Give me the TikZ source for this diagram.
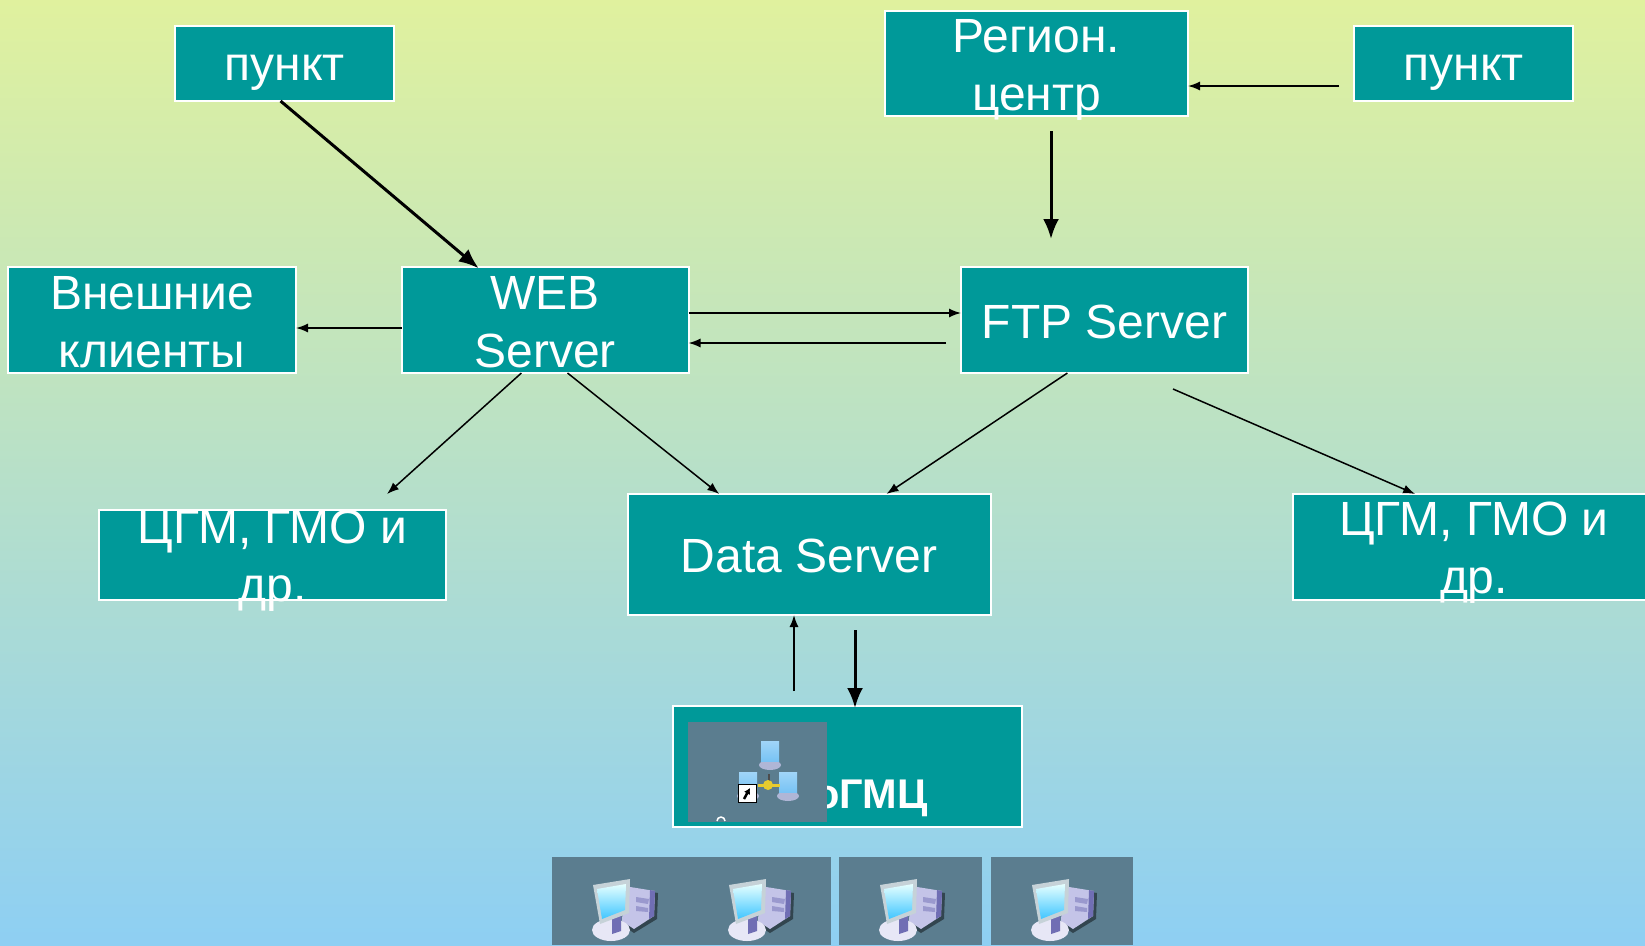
\documentclass[tikz,border=0pt]{standalone}
\usepackage{fontspec}
\setmainfont{Liberation Sans}
\usetikzlibrary{arrows.meta}

\definecolor{tealbox}{RGB}{0,153,153}
\definecolor{tilegray}{RGB}{91,125,143}
\definecolor{bgtop}{RGB}{224,241,158}
\definecolor{bgbottom}{RGB}{142,207,243}
\definecolor{towerlav}{RGB}{196,196,232}
\definecolor{towerdark}{RGB}{112,110,180}
\definecolor{skyscreen}{RGB}{120,195,245}

\tikzset{
  tealnode/.style={draw=white, line width=2pt, fill=tealbox, outer sep=0pt, inner sep=0pt},
  boxtext/.style={text=white, align=center, inner sep=0pt, font=\fontsize{48pt}{58pt}\selectfont},
  thinarrow/.style={line width=1.5pt, -{Latex[length=12pt,width=9pt]}},
  thickarrow/.style={line width=3pt, shorten >=-2pt, -{Latex[length=20pt,width=16pt]}},
  tile/.style={fill=tilegray, inner sep=0pt, outer sep=0pt}
}

\begin{document}
\begin{tikzpicture}[x=1pt,y=-1pt]

\newcommand\PC[2]{%
\begin{scope}[shift={(#1,#2)}]
  \fill[black!45!tilegray] (34,9) -- (66,14) -- (65,40) -- (42,54) -- (30,46) -- cycle;
  \fill[towerlav] (32,7) -- (63,12) -- (62,37) -- (42,50) -- (30,42) -- cycle;
  \fill[towerdark] (58,11) -- (63,12) -- (62,37) -- (57,40) -- cycle;
  \fill[towerdark!50!towerlav] (44,18) -- (57,20) -- (56,25) -- (44,23) -- cycle;
  \fill[towerdark!50!towerlav] (44,27) -- (56,29) -- (56,33) -- (44,32) -- cycle;
  \fill[towerlav!40!white] (19,51) ellipse (19 and 11);
  \fill[towerdark] (20,36) -- (29,34) -- (29,52) -- (20,55) -- cycle;
  \fill[white!65!tilegray] (1,6) -- (38,0) -- (37,34) -- (8,45) -- cycle;
  \shade[top color=cyan!10!white, bottom color=cyan!70!blue!75!white] (5,10) -- (34,5) -- (33,31) -- (10,40) -- cycle;
\end{scope}}

\newcommand\SMALLPC[2]{%
\begin{scope}[shift={(#1,#2)}]
  \fill[towerlav!80!tilegray] (10,24) ellipse (11 and 5);
  \shade[top color=skyscreen!70!white, bottom color=skyscreen] (1,0) -- (19,0) -- (19,20) -- (1,20) -- cycle;
\end{scope}}

%% background
\path[use as bounding box, clip] (0,0) rectangle (1645,945);
\shade[top color=bgtop, bottom color=bgbottom] (0,0) rectangle (1645,945);

%% boxes
\node[tealnode, minimum width=219pt, minimum height=75pt] (punktA) at (284.5,63.5) {};
\node[tealnode, minimum width=303pt, minimum height=105pt] (region) at (1036.5,63.5) {};
\node[tealnode, minimum width=219pt, minimum height=75pt] (punktB) at (1463.5,63.5) {};
\node[tealnode, minimum width=288pt, minimum height=106pt] (clients) at (152,320) {};
\node[tealnode, minimum width=287pt, minimum height=106pt] (web) at (545,320) {};
\node[tealnode, minimum width=287pt, minimum height=106pt] (ftp) at (1104.5,320) {};
\node[tealnode, minimum width=347pt, minimum height=90pt] (cgmA) at (272.5,555) {};
\node[tealnode, minimum width=363pt, minimum height=121pt] (data) at (809,554.5) {};
\node[tealnode, minimum width=362pt, minimum height=106pt] (cgmB) at (1474,547) {};
\node[tealnode, minimum width=349pt, minimum height=121pt] (ogmc) at (847.5,766.5) {};

%% texts
\node[boxtext, yshift=-9.5pt] (punktAtext) at (punktA) {пункт};
\node[boxtext, yshift=-6pt] (regiontext) at (region) {Регион.\\центр};
\node[boxtext, yshift=-9.5pt] (punktBtext) at (punktB) {пункт};
\node[boxtext, yshift=-2pt] (clientstext) at (clients) {Внешние\\клиенты};
\node[boxtext, yshift=-2pt] (webtext) at (web) {WEB\\Server};
\node[boxtext, yshift=-2pt] (ftptext) at (ftp) {FTP Server};
\node[boxtext, yshift=-6pt] (cgmAtext) at (cgmA) {ЦГМ, ГМО и\\др.};
\node[boxtext, yshift=-1pt] (datatext) at (data) {Data Server};
\node[boxtext, yshift=-6pt] (cgmBtext) at (cgmB) {ЦГМ, ГМО и\\др.};
\node[text=white, inner sep=0pt, anchor=base east, font=\fontsize{41.5pt}{48pt}\selectfont\bfseries] (ogmctext) at (928,808) {оГМЦ};

%% free ends
\coordinate (regionout) at (1051,131);
\coordinate (ftpin) at (1051,237);
\coordinate (punktBout) at (1339,86);
\coordinate (ftpback) at (946,343);
\coordinate (cgmAin) at (387,494);
\coordinate (ftpout) at (1173,389);
\coordinate (dataup) at (794,691);
\coordinate (datadown) at (855,630);
\coordinate (clientsrow) at (0,328);
\coordinate (ftprow) at (0,313);

%% arrows
\draw[thickarrow] (punktA.-96) -- (web.142.5);
\draw[thickarrow] (regionout) -- (ftpin);
\draw[thinarrow] (punktBout) -- (region.east |- punktBout);
\draw[thinarrow] (web.west |- clientsrow) -- (clients.east |- clientsrow);
\draw[thinarrow] (web.east |- ftprow) -- (ftp.west |- ftprow);
\draw[thinarrow] (ftpback) -- (web.east |- ftpback);
\draw[thinarrow] (web.-114.4) -- (cgmAin);
\draw[thinarrow] (web.-67) -- (data.146.2);
\draw[thinarrow] (ftp.-125.3) -- (data.38);
\draw[thinarrow] (ftpout) -- (cgmB.138.5);
\draw[thinarrow] (dataup) -- (data.south -| dataup);
\draw[thickarrow] (datadown) -- (ogmc.north -| datadown);

%% network icon
\node[tile, minimum width=139pt, minimum height=100pt] (neticon) at (757.5,771.5) {};
\SMALLPC{760}{741}
\SMALLPC{778}{772}
\SMALLPC{738}{772}
\draw[line width=2pt, black!70] (769,774) -- (769,785);
\draw[line width=3pt, yellow!60!brown] (758,785) -- (780,785);
\fill[yellow!60!brown] (768,785) circle (5);
\node[fill=white, draw=black, line width=1pt, minimum size=18pt, inner sep=0pt] (shortcut) at (747,793) {};
\draw[line width=2.5pt, -{Latex[length=6pt,width=7pt]}] (744,799) -- (750,788);
\draw[white, line width=1.5pt] (717,821) arc (180:360:4);

%% computers
\node[tile, minimum width=279pt, minimum height=88pt, anchor=north west] (tileA) at (552,857) {};
\node[tile, minimum width=143pt, minimum height=88pt, anchor=north west] (tileB) at (839,857) {};
\node[tile, minimum width=142pt, minimum height=88pt, anchor=north west] (tileC) at (991,857) {};
\PC{592}{879}
\PC{728}{879}
\PC{879}{879}
\PC{1031}{879}

\end{tikzpicture}
\end{document}
